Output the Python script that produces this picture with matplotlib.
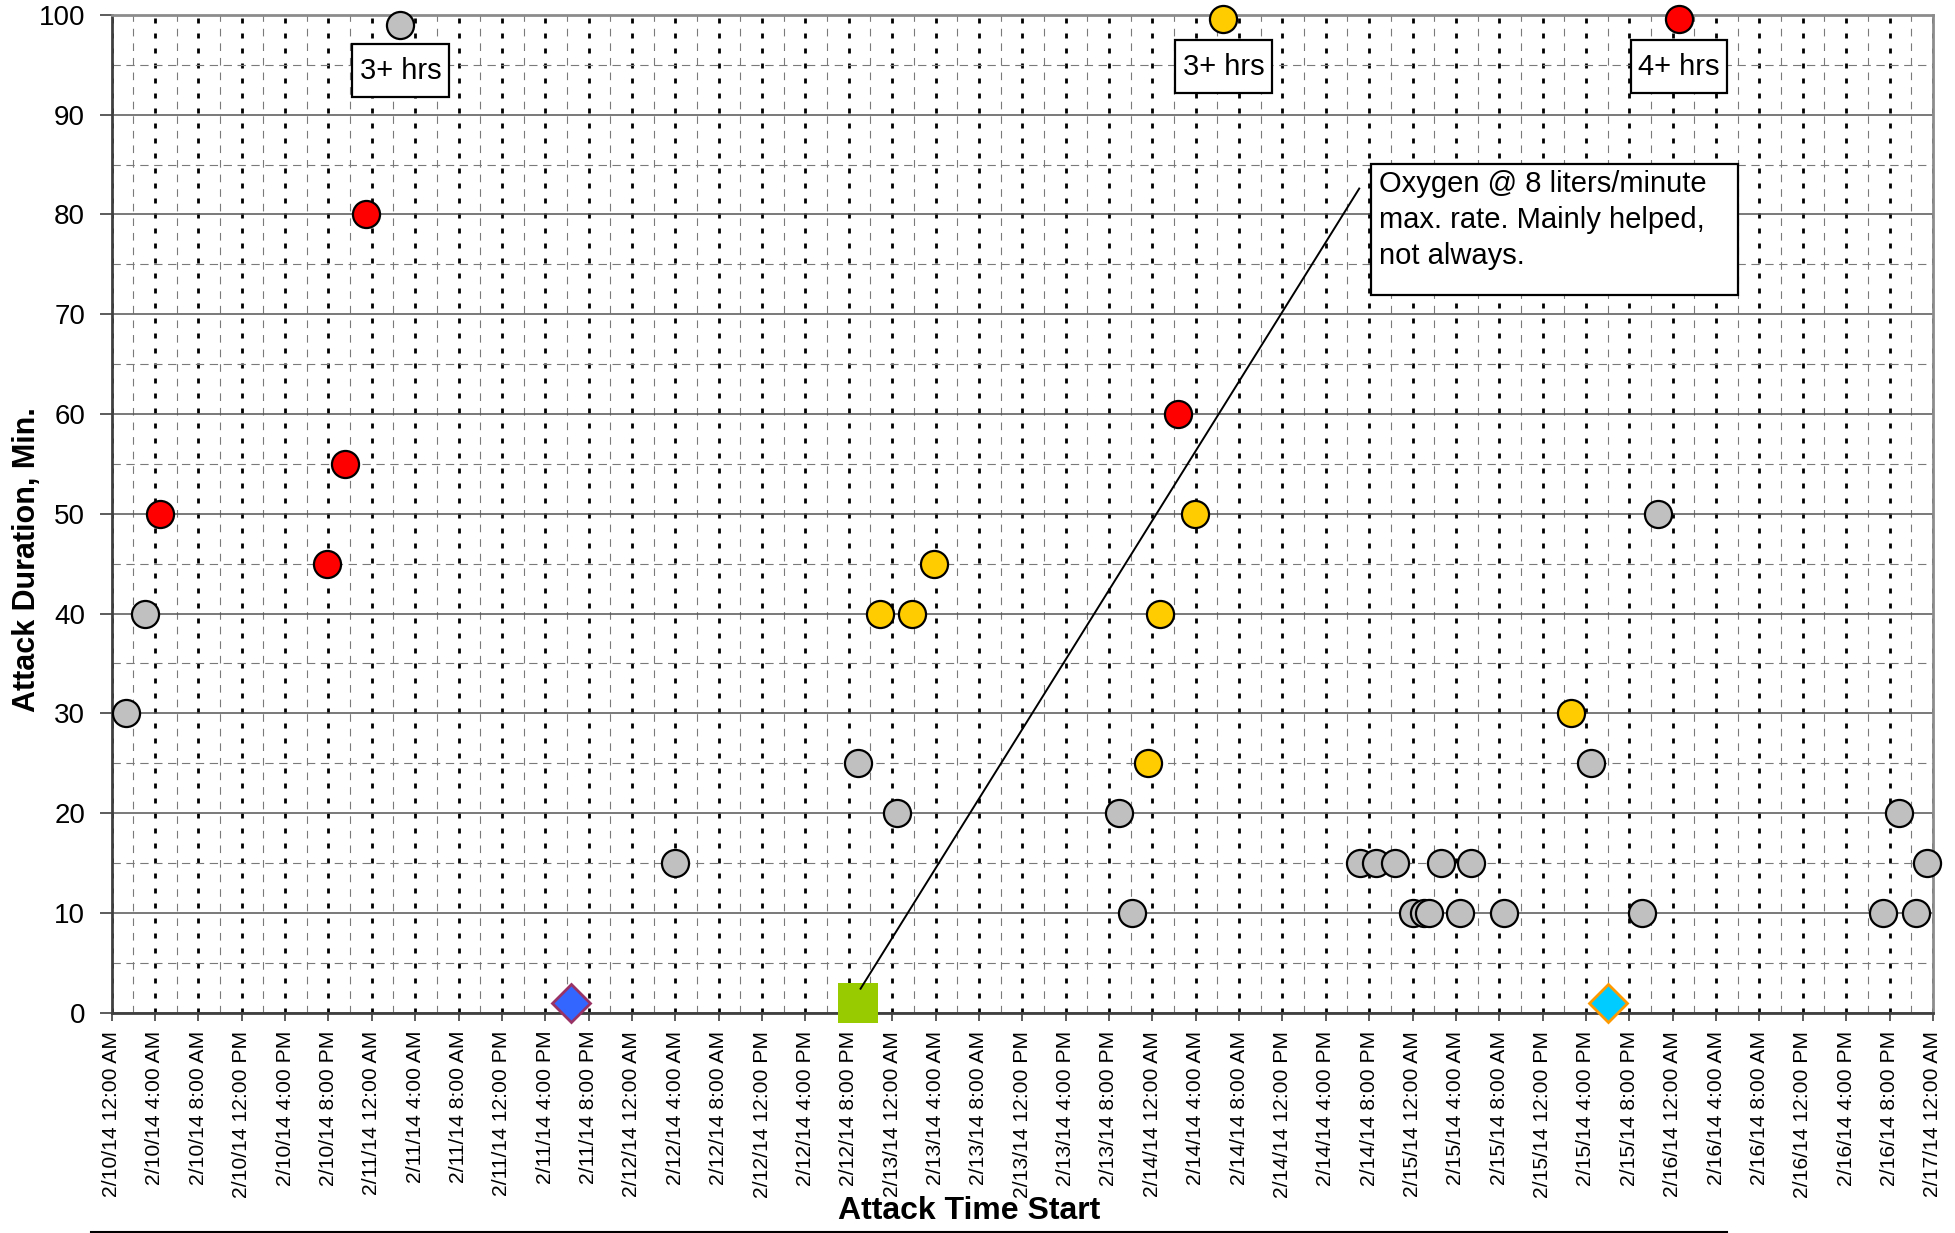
import matplotlib
matplotlib.use("Agg")
import matplotlib.pyplot as plt
import matplotlib.dates as mdates
from matplotlib.lines import Line2D
from matplotlib.patches import Rectangle
from matplotlib.ticker import FuncFormatter, MultipleLocator
import pandas as pd

plt.rcParams['font.family'] = ['Liberation Sans', 'DejaVu Sans']
plt.rcParams['lines.scale_dashes'] = False

# attacks with no special treatment (grey)
grey_times = ["2/10/14 01:20", "2/10/14 03:05", "2/11/14 02:35", "2/12/14 04:00",
              "2/12/14 20:50", "2/13/14 00:25", "2/13/14 20:55", "2/13/14 22:10",
              "2/14/14 19:10", "2/14/14 20:40", "2/14/14 22:25", "2/15/14 00:00",
              "2/15/14 01:05", "2/15/14 01:30", "2/15/14 02:40", "2/15/14 04:20",
              "2/15/14 05:25", "2/15/14 08:25", "2/15/14 16:25", "2/15/14 21:10",
              "2/15/14 22:40", "2/16/14 19:25", "2/16/14 20:55", "2/16/14 22:25",
              "2/16/14 23:25"]
grey_mins = [30, 40, 99, 15, 25, 20, 20, 10, 15, 15, 15, 10, 10, 10, 15, 10,
             15, 10, 25, 10, 50, 10, 20, 10, 15]

red_times = ["2/10/14 04:25", "2/10/14 19:50", "2/10/14 21:30", "2/10/14 23:30",
             "2/14/14 02:20", "2/16/14 00:35"]
red_mins = [50, 45, 55, 80, 60, 99.6]

yellow_times = ["2/12/14 22:50", "2/13/14 01:50", "2/13/14 03:50", "2/13/14 23:35",
                "2/14/14 00:40", "2/14/14 03:55", "2/14/14 06:30", "2/15/14 14:35"]
yellow_mins = [40, 40, 45, 25, 40, 50, 99.6, 30]

# single events drawn on the baseline
blue_time, blue_val = "2/11/14 18:20", 1
green_time, green_val = "2/12/14 20:50", 1
cyan_time, cyan_val = "2/15/14 18:00", 1


def t(s):
    return pd.to_datetime(s, format="%m/%d/%y %H:%M")


def fmt_date(x, pos):
    d = mdates.num2date(x)
    h = d.hour % 12
    if h == 0:
        h = 12
    ampm = "AM" if d.hour < 12 else "PM"
    return "%d/%d/%s %d:%02d %s" % (d.month, d.day, d.strftime("%y"), h, d.minute, ampm)


def hrs_box(ax, when, y, label):
    # white box with a black border, sized like the original callouts
    c = mdates.date2num(t(when))
    w = 8.9 / 24.0
    ax.add_patch(Rectangle((c - w / 2, y - 2.65), w, 5.3, facecolor='white',
                           edgecolor='black', linewidth=1.6, zorder=6))
    ax.text(c, y, label, fontsize=21, ha='center', va='center', zorder=7)


fig = plt.figure(figsize=(19.55, 12.33), dpi=100)
ax = fig.add_axes([0.0571, 0.1787, 0.9316, 0.8092])

circle = dict(marker='o', linestyle='none', markersize=19.5, markeredgecolor='black',
              markeredgewidth=1.6, clip_on=False, zorder=5)
ax.plot([t(s) for s in grey_times], grey_mins, markerfacecolor='#C0C0C0', **circle)
ax.plot([t(s) for s in red_times], red_mins, markerfacecolor='#FF0000', **circle)
ax.plot([t(s) for s in yellow_times], yellow_mins, markerfacecolor='#FFCC00', **circle)

ax.plot([t(blue_time)], [blue_val], marker='D', linestyle='none', markersize=19.5,
        markerfacecolor='#3366FF', markeredgecolor='#993366', markeredgewidth=2,
        clip_on=False, zorder=5)
ax.plot([t(cyan_time)], [cyan_val], marker='D', linestyle='none', markersize=19.5,
        markerfacecolor='#00CCFF', markeredgecolor='#FF9900', markeredgewidth=2,
        clip_on=False, zorder=5)
ax.plot([t(green_time)], [green_val], marker='s', linestyle='none', markersize=29,
        markerfacecolor='#99CC00', markeredgewidth=0, clip_on=False, zorder=5)

ax.set_xlim(t("2/10/14 00:00"), t("2/17/14 00:00"))
ax.set_ylim(0, 100)

ax.xaxis.set_major_locator(mdates.HourLocator(byhour=range(0, 24, 4)))
ax.xaxis.set_minor_locator(mdates.HourLocator(byhour=range(2, 24, 4)))
ax.xaxis.set_major_formatter(FuncFormatter(fmt_date))
ax.yaxis.set_major_locator(MultipleLocator(10))
ax.yaxis.set_minor_locator(MultipleLocator(5))

ax.tick_params(axis='x', which='major', labelsize=15.2, labelrotation=90, length=6,
               width=1.2, color='#404040', pad=7)
ax.tick_params(axis='y', which='major', labelsize=20, length=9, width=1.2,
               color='#404040', pad=10)
ax.tick_params(which='minor', length=0)

ax.set_axisbelow(True)
ax.grid(which='major', axis='x', color='black', linewidth=2.0, linestyle=(0, (3.6, 7.2)))
ax.grid(which='minor', axis='x', color='#7A7A7A', linewidth=0.8, linestyle=(0, (5.5, 5)))
ax.grid(which='major', axis='y', color='#555555', linewidth=1.1, linestyle='-')
ax.grid(which='minor', axis='y', color='#7A7A7A', linewidth=0.8, linestyle=(0, (6, 4)))

for side in ['left', 'bottom']:
    ax.spines[side].set_color('#404040')
    ax.spines[side].set_linewidth(2)
for side in ['top', 'right']:
    ax.spines[side].set_color('#8C8C8C')
    ax.spines[side].set_linewidth(2)

# duration labels for the attacks that went off the chart
hrs_box(ax, "2/11/14 02:40", 94.4, "3+ hrs")
hrs_box(ax, "2/14/14 06:35", 94.8, "3+ hrs")
hrs_box(ax, "2/16/14 00:35", 94.8, "4+ hrs")

# oxygen callout
ax.plot([t("2/12/14 21:05"), t("2/14/14 19:05")], [2.4, 82.6], color='black',
        linewidth=1.4, zorder=6)
x0 = mdates.date2num(t("2/14/14 20:12"))
x1 = mdates.date2num(t("2/16/14 06:00"))
ax.add_patch(Rectangle((x0, 71.9), x1 - x0, 85.1 - 71.9, facecolor='white',
                       edgecolor='black', linewidth=1.6, zorder=6))
ax.text(t("2/14/14 20:55"), 84.5, "Oxygen @ 8 liters/minute\nmax. rate. Mainly helped,\nnot always.",
        fontsize=21, ha='left', va='top', linespacing=1.37, zorder=7)

fig.text(0.4956, 0.0178, "Attack Time Start", fontsize=23, fontweight='bold',
         ha='center', va='center')
fig.text(0.0138, 0.5458, "Attack Duration, Min.", fontsize=22, fontweight='bold',
         rotation=90, ha='center', va='center')

fig.add_artist(Line2D([0.0465, 0.8834], [0.0012, 0.0012], color='black', linewidth=1.5))

fig.savefig("out.png", dpi=100)
